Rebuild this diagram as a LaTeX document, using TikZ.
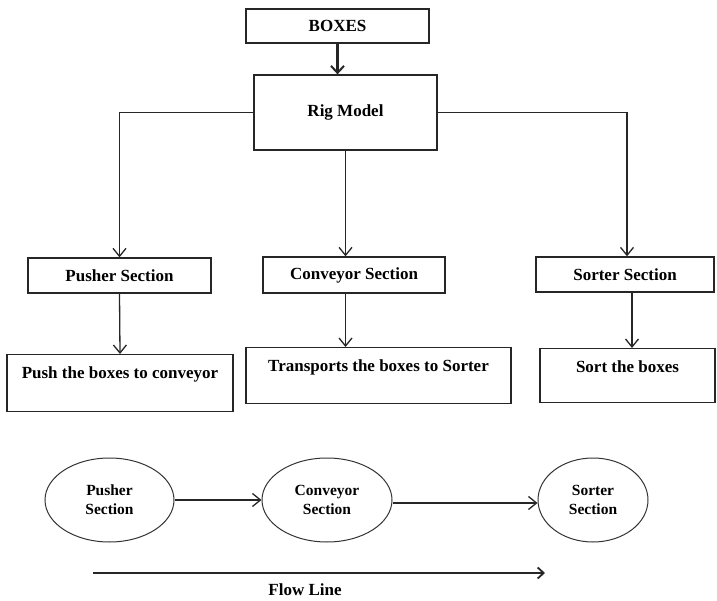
\documentclass[tikz,border=0pt]{standalone}
\usepackage{fontspec}
\setmainfont{Liberation Serif}
\usetikzlibrary{arrows.meta,shapes.geometric}
\begin{document}
\begin{tikzpicture}[x=1pt,y=-1pt,
  every node/.style={font=\fontsize{17}{19}\selectfont\bfseries},
  box/.style={draw=black!85, line width=1.3pt, rectangle, inner sep=0pt},
  topbox/.style={box, text height=24pt, inner sep=0pt},
  oval/.style={draw=black!80, line width=1pt, ellipse, inner sep=0pt, align=center, font=\fontsize{15.5}{19}\selectfont\bfseries},
  conn/.style={draw=black!85, line width=1.3pt, -{Straight Barb[length=8pt,width=13pt,line width=1.3pt]}},
  flow/.style={draw=black!85, line width=2.8pt, -{Straight Barb[length=6pt,width=11pt,line width=1.8pt]}}]
\useasboundingbox (0,0) rectangle (717,601);
\node[box, minimum width=183pt, minimum height=34pt] (boxes) at (337.5,26) {BOXES};
\node[box, minimum width=183pt, minimum height=75pt] (rig) at (345.5,112.5) {Rig Model};
\node[box, minimum width=183pt, minimum height=35pt] (pusher) at (119.5,275.5) {Pusher Section};
\node[box, minimum width=182pt, minimum height=36pt] (conveyor) at (354,275) {Conveyor Section};
\node[box, minimum width=178pt, minimum height=35pt] (sorter) at (625,274.5) {Sorter Section};
\node[topbox, minimum width=226pt, text depth=33pt, anchor=north] (push) at (120,354) {Push the boxes to conveyor};
\node[topbox, minimum width=265pt, text depth=32pt, anchor=north] (transport) at (378.5,347) {Transports the boxes to Sorter};
\node[topbox, minimum width=175pt, text depth=30pt, anchor=north] (sort) at (627.5,348) {Sort the boxes};
\node[oval, minimum width=129pt, minimum height=84pt] (e1) at (109.5,500) {Pusher\\Section};
\node[oval, minimum width=130pt, minimum height=84pt] (e2) at (327,500) {Conveyor\\Section};
\node[oval, minimum width=110pt, minimum height=84pt] (e3) at (593,500) {Sorter\\Section};
\coordinate (fs) at (93,573);
\coordinate (fe) at (545,573);
\node (flowlabel) at (305,590) {Flow Line};
\draw[conn, line width=2.4pt, -{Straight Barb[length=7pt,width=13pt,line width=2pt]}] (boxes.south) -- (boxes.south |- rig.north);
\draw[conn] (rig.west) -| (pusher.north);
\draw[conn] (rig.south) -- (rig.south |- conveyor.north);
\draw[conn] (rig.east) -| ([xshift=2pt]sorter.north);
\draw[conn] (pusher.south) -- (push.north);
\draw[conn] (rig.south |- conveyor.south) -- (rig.south |- transport.north);
\draw[conn] ([xshift=7pt]sorter.south) -- ([xshift=7pt]sorter.south |- sort.north);
\draw[conn] (e1.east) -- (e2.west);
\draw[conn] ([yshift=-3pt]e2.east) -- ([yshift=-3pt]e3.west);
\draw[flow] (fs) -- (fe);
\end{tikzpicture}
\end{document}
